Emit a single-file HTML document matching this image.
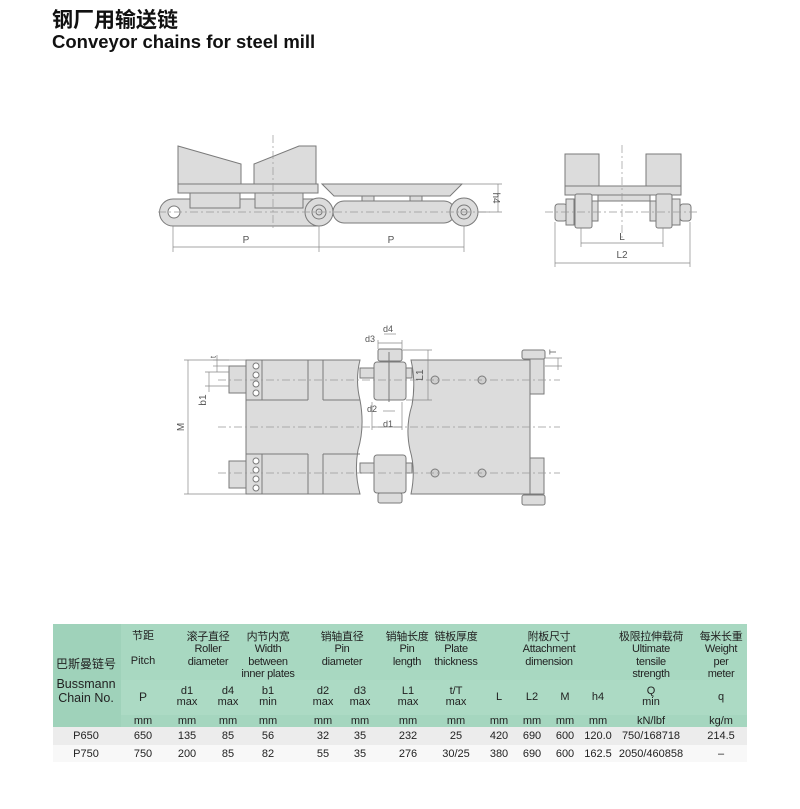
<!DOCTYPE html>
<html><head><meta charset="utf-8"><style>
body{margin:0;background:#fff;width:800px;height:809px;position:relative;overflow:hidden;font-family:"Liberation Sans","Noto Sans CJK SC",sans-serif;}
.t{position:absolute;text-align:center;color:#222;font-size:11px;line-height:11px;transform:translateX(-50%);white-space:nowrap;}
.h{letter-spacing:-0.3px;line-height:12.3px}
</style></head><body>
<div style="position:absolute;left:52px;top:4px;font-size:21px;font-weight:bold;color:#111;font-family:'Liberation Sans','Noto Sans CJK SC',sans-serif;">钢厂用输送链</div>
<div style="position:absolute;left:52px;top:31px;font-size:18.5px;font-weight:bold;color:#111;">Conveyor chains for steel mill</div>

<svg width="800" height="620" style="position:absolute;left:0;top:0" xmlns="http://www.w3.org/2000/svg" font-family="Liberation Sans, sans-serif" font-size="10" fill="none">
<g stroke="#7a7a7a" stroke-width="1" fill="#dcdcdc">
<path d="M178 146 L241 164 L241 186 L178 186 Z"/>
<path d="M254 164 L299 146 L316 146 L316 186 L254 186 Z"/>
<rect x="178" y="184" width="140" height="9"/>
<path d="M173 199 L318 199 L318 226 L173 226 A13 13 0 0 1 173 199 Z"/>
<rect x="190" y="193" width="50" height="15"/>
<rect x="255" y="193" width="48" height="15"/>
<path d="M322 184 L462 184 L450 196 L334 196 Z"/>
<rect x="333" y="201" width="122" height="22" rx="11"/>
<rect x="362" y="196" width="12" height="5"/><rect x="410" y="196" width="12" height="5"/>
<circle cx="319" cy="212" r="14"/><circle cx="319" cy="212" r="7"/><circle cx="319" cy="212" r="3"/>
<circle cx="464" cy="212" r="14"/><circle cx="464" cy="212" r="7"/><circle cx="464" cy="212" r="3"/>
<circle cx="174" cy="212" r="6" fill="#fff"/>
<rect x="565" y="154" width="34" height="33"/>
<rect x="646" y="154" width="35" height="33"/>
<rect x="565" y="186" width="116" height="9"/>
<rect x="555" y="204" width="12" height="17" rx="3"/><rect x="566" y="199" width="8" height="26"/>
<rect x="575" y="194" width="17" height="34" rx="2"/><rect x="592" y="201" width="6" height="20"/>
<rect x="680" y="204" width="11" height="17" rx="3"/><rect x="672" y="199" width="8" height="26"/>
<rect x="656" y="194" width="16" height="34" rx="2"/><rect x="650" y="201" width="6" height="20"/>
<rect x="598" y="195" width="52" height="6"/>
<path d="M246 360 L360 360 Q355 380 360 400 Q365 427 358 450 Q354 472 360 494 L246 494 Z"/>
<path d="M411 360 L530 360 L530 494 L411 494 Q416 470 410 450 Q405 427 412 405 Q416 382 411 360 Z"/>
<rect x="229" y="366" width="17" height="27"/><rect x="229" y="461" width="17" height="27"/>
<rect x="360" y="368" width="52" height="10"/><rect x="360" y="463" width="52" height="10"/>
<rect x="374" y="362" width="32" height="38" rx="3"/>
<rect x="378" y="349" width="24" height="12" rx="2"/>
<rect x="374" y="455" width="32" height="38" rx="3"/>
<rect x="378" y="493" width="24" height="10" rx="2"/>
<rect x="530" y="358" width="14" height="36"/><rect x="530" y="458" width="14" height="36"/>
<rect x="522" y="350" width="23" height="9" rx="2"/><rect x="522" y="495" width="23" height="10" rx="2"/>
</g>
<g stroke="#7a7a7a" stroke-width="1">
<path d="M308 360V400M323 360V400M308 454V494M323 454V494M246 400H308M323 400H360M246 454H308M323 454H360M262 360V400M262 454V494"/>
<line x1="389" y1="352" x2="389" y2="402"/>
</g>
<g stroke="#7a7a7a" fill="#fff">
<circle cx="256" cy="366" r="3"/><circle cx="256" cy="375" r="3"/><circle cx="256" cy="384" r="3"/><circle cx="256" cy="393" r="3"/>
<circle cx="256" cy="461" r="3"/><circle cx="256" cy="470" r="3"/><circle cx="256" cy="479" r="3"/><circle cx="256" cy="488" r="3"/>
</g>
<g stroke="#7a7a7a" fill="#cfcfcf">
<circle cx="435" cy="380" r="4"/><circle cx="482" cy="380" r="4"/><circle cx="435" cy="473" r="4"/><circle cx="482" cy="473" r="4"/>
</g>
<g stroke="#999" stroke-width="0.7" stroke-dasharray="8 3 2 3">
<line x1="158" y1="212" x2="490" y2="212"/>
<line x1="273" y1="135" x2="273" y2="230"/>
<line x1="545" y1="212" x2="700" y2="212"/>
<line x1="622" y1="145" x2="622" y2="240"/>
<line x1="218" y1="380" x2="560" y2="380"/>
<line x1="218" y1="427" x2="560" y2="427"/>
<line x1="218" y1="473" x2="560" y2="473"/>
</g>
<g stroke="#888" stroke-width="0.7">
<line x1="173" y1="247" x2="464" y2="247"/><line x1="173" y1="226" x2="173" y2="252"/><line x1="319" y1="226" x2="319" y2="252"/><line x1="464" y1="226" x2="464" y2="252"/>
<line x1="498" y1="184" x2="498" y2="212"/><line x1="462" y1="184" x2="502" y2="184"/><line x1="478" y1="212" x2="502" y2="212"/>
<line x1="581" y1="243" x2="663" y2="243"/><line x1="581" y1="228" x2="581" y2="247"/><line x1="663" y1="228" x2="663" y2="247"/>
<line x1="555" y1="263" x2="690" y2="263"/><line x1="555" y1="222" x2="555" y2="267"/><line x1="690" y1="222" x2="690" y2="267"/>
<line x1="188" y1="360" x2="188" y2="494"/><line x1="184" y1="360" x2="246" y2="360"/><line x1="184" y1="494" x2="246" y2="494"/>
<line x1="209" y1="372" x2="209" y2="392"/><line x1="205" y1="372" x2="229" y2="372"/><line x1="205" y1="386" x2="229" y2="386"/>
<line x1="217" y1="355" x2="217" y2="372"/><line x1="213" y1="360" x2="229" y2="360"/><line x1="213" y1="366" x2="229" y2="366"/>
<line x1="428" y1="350" x2="428" y2="400"/><line x1="402" y1="350" x2="432" y2="350"/><line x1="406" y1="400" x2="432" y2="400"/>
<line x1="378" y1="343" x2="402" y2="343"/><line x1="378" y1="340" x2="378" y2="349"/><line x1="402" y1="340" x2="402" y2="349"/>
<line x1="384" y1="334" x2="396" y2="334"/>
<line x1="383" y1="411" x2="395" y2="411"/>
<line x1="372" y1="427" x2="402" y2="427"/><line x1="372" y1="402" x2="372" y2="430"/><line x1="402" y1="402" x2="402" y2="430"/>
<line x1="558" y1="358" x2="558" y2="370"/><line x1="545" y1="358" x2="562" y2="358"/><line x1="545" y1="366" x2="562" y2="366"/>
</g>
<g fill="#555" stroke="none" font-size="10">
<text x="246" y="243" text-anchor="middle">P</text>
<text x="391" y="243" text-anchor="middle">P</text>
<text x="622" y="240" text-anchor="middle">L</text>
<text x="622" y="258" text-anchor="middle">L2</text>
<text transform="translate(493,198) rotate(90)" text-anchor="middle">h4</text>
<text transform="translate(184,427) rotate(-90)" text-anchor="middle">M</text>
<text transform="translate(206,400) rotate(-90)" text-anchor="middle">b1</text>
<text transform="translate(216,357) rotate(-90)" text-anchor="middle" font-size="8">t</text>
<text transform="translate(423,375) rotate(-90)" text-anchor="middle">L1</text>
<text x="383" y="332" font-size="9">d4</text>
<text x="365" y="342" font-size="9">d3</text>
<text x="367" y="412" font-size="9">d2</text>
<text x="383" y="427" font-size="9">d1</text>
<text transform="translate(556,352) rotate(-90)" text-anchor="middle" font-size="9">T</text>
</g>
</svg>

<div style="position:absolute;left:53px;top:624px;width:694px;height:56px;background:#a8d8c1"></div>
<div style="position:absolute;left:53px;top:680px;width:694px;height:35px;background:#acdac4"></div>
<div style="position:absolute;left:53px;top:715px;width:694px;height:12px;background:#a5d6bf"></div>
<div style="position:absolute;left:53px;top:624px;width:68px;height:103px;background:#9fd2ba"></div>
<div style="position:absolute;left:53px;top:727px;width:694px;height:18px;background:#ececec"></div>
<div style="position:absolute;left:53px;top:745px;width:694px;height:17px;background:#f8f8f8"></div>

<div class="t" style="left:86px;top:659px;font-size:12px;">巴斯曼链号</div>
<div class="t" style="left:86px;top:677px;font-size:12.5px;line-height:14px">Bussmann<br>Chain No.</div>

<div class="t" style="left:143px;top:631px">节距</div><div class="t" style="left:143px;top:656px">Pitch</div>
<div class="t h" style="left:208px;top:631px">滚子直径<br>Roller<br>diameter</div>
<div class="t h" style="left:268px;top:631px">内节内宽<br>Width<br>between<br>inner plates</div>
<div class="t h" style="left:342px;top:631px">销轴直径<br>Pin<br>diameter</div>
<div class="t h" style="left:407px;top:631px">销轴长度<br>Pin<br>length</div>
<div class="t h" style="left:456px;top:631px">链板厚度<br>Plate<br>thickness</div>
<div class="t h" style="left:549px;top:631px">附板尺寸<br>Attachment<br>dimension</div>
<div class="t h" style="left:651px;top:631px">极限拉伸载荷<br>Ultimate<br>tensile<br>strength</div>
<div class="t h" style="left:721px;top:631px">每米长重<br>Weight<br>per<br>meter</div>

<div class="t" style="left:143px;top:692px;font-size:12px">P</div>
<div class="t" style="left:187px;top:686px">d1<br>max</div>
<div class="t" style="left:228px;top:686px">d4<br>max</div>
<div class="t" style="left:268px;top:686px">b1<br>min</div>
<div class="t" style="left:323px;top:686px">d2<br>max</div>
<div class="t" style="left:360px;top:686px">d3<br>max</div>
<div class="t" style="left:408px;top:686px">L1<br>max</div>
<div class="t" style="left:456px;top:686px">t/T<br>max</div>
<div class="t" style="left:499px;top:692px">L</div>
<div class="t" style="left:532px;top:692px">L2</div>
<div class="t" style="left:565px;top:692px">M</div>
<div class="t" style="left:598px;top:692px">h4</div>
<div class="t" style="left:651px;top:686px">Q<br>min</div>
<div class="t" style="left:721px;top:692px">q</div>

<div class="t" style="left:143px;top:716px">mm</div><div class="t" style="left:187px;top:716px">mm</div><div class="t" style="left:228px;top:716px">mm</div><div class="t" style="left:268px;top:716px">mm</div><div class="t" style="left:323px;top:716px">mm</div><div class="t" style="left:360px;top:716px">mm</div><div class="t" style="left:408px;top:716px">mm</div><div class="t" style="left:456px;top:716px">mm</div><div class="t" style="left:499px;top:716px">mm</div><div class="t" style="left:532px;top:716px">mm</div><div class="t" style="left:565px;top:716px">mm</div><div class="t" style="left:598px;top:716px">mm</div><div class="t" style="left:651px;top:716px">kN/lbf</div><div class="t" style="left:721px;top:716px">kg/m</div>

<div class="t" style="left:86px;top:731px">P650</div><div class="t" style="left:143px;top:731px">650</div><div class="t" style="left:187px;top:731px">135</div><div class="t" style="left:228px;top:731px">85</div><div class="t" style="left:268px;top:731px">56</div><div class="t" style="left:323px;top:731px">32</div><div class="t" style="left:360px;top:731px">35</div><div class="t" style="left:408px;top:731px">232</div><div class="t" style="left:456px;top:731px">25</div><div class="t" style="left:499px;top:731px">420</div><div class="t" style="left:532px;top:731px">690</div><div class="t" style="left:565px;top:731px">600</div><div class="t" style="left:598px;top:731px">120.0</div><div class="t" style="left:651px;top:731px">750/168718</div><div class="t" style="left:721px;top:731px">214.5</div>

<div class="t" style="left:86px;top:749px">P750</div><div class="t" style="left:143px;top:749px">750</div><div class="t" style="left:187px;top:749px">200</div><div class="t" style="left:228px;top:749px">85</div><div class="t" style="left:268px;top:749px">82</div><div class="t" style="left:323px;top:749px">55</div><div class="t" style="left:360px;top:749px">35</div><div class="t" style="left:408px;top:749px">276</div><div class="t" style="left:456px;top:749px">30/25</div><div class="t" style="left:499px;top:749px">380</div><div class="t" style="left:532px;top:749px">690</div><div class="t" style="left:565px;top:749px">600</div><div class="t" style="left:598px;top:749px">162.5</div><div class="t" style="left:651px;top:749px">2050/460858</div><div class="t" style="left:721px;top:749px">–</div>
</body></html>
